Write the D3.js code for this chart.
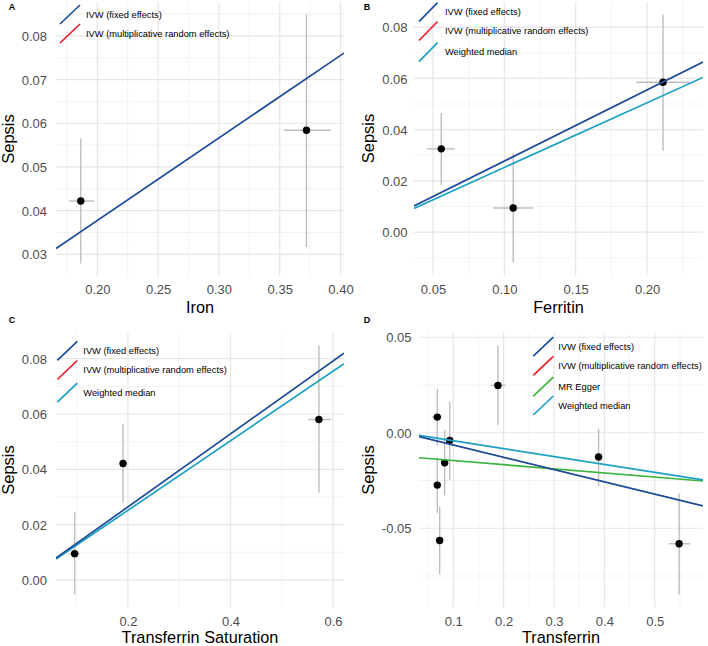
<!DOCTYPE html>
<html><head><meta charset="utf-8">
<script src="https://cdn.jsdelivr.net/npm/d3@7"></script>
<style>
body{margin:0;background:#fff}
svg{display:block;font-family:"Liberation Sans",Arial,Helvetica,sans-serif}
</style>
</head><body>
<svg id="chart" width="708" height="646"></svg>
<script>
// ---------- shared ----------
const methodNames = ["IVW (fixed effects)", "IVW (multiplicative random effects)", "MR Egger", "Weighted median"];
const methodColors = ["#1b4f9c", "#f01c24", "#3cb43c", "#1ba0c4"];

// ---------- Panel A: Iron ----------
const ironPoints = [
  {x:0.1864, xlo:0.1768, xhi:0.1973, y:0.0422, ylo:0.0279, yhi:0.0565},
  {x:0.3720, xlo:0.3534, xhi:0.3921, y:0.0584, ylo:0.0317, yhi:0.0849}
];
const ironMethods = ["IVW (fixed effects)", "IVW (multiplicative random effects)"];
const ironSlopes = [0.1888, 0.1888];
const ironIntercepts = [0, 0];
const ironXTicks = [0.20, 0.25, 0.30, 0.35, 0.40];
const ironXLabels = ["0.20", "0.25", "0.30", "0.35", "0.40"];
const ironYTicks = [0.03, 0.04, 0.05, 0.06, 0.07, 0.08];
const ironYLabels = ["0.03", "0.04", "0.05", "0.06", "0.07", "0.08"];

// ---------- Panel B: Ferritin ----------
const ferritinPoints = [
  {x:0.0558, xlo:0.0459, xhi:0.0652, y:0.0325, ylo:0.0183, yhi:0.0465},
  {x:0.1062, xlo:0.0922, xhi:0.1200, y:0.0094, ylo:-0.0119, yhi:0.0307},
  {x:0.2112, xlo:0.1925, xhi:0.2300, y:0.0585, ylo:0.0318, yhi:0.0850}
];
const ferritinMethods = ["IVW (fixed effects)", "IVW (multiplicative random effects)", "Weighted median"];
const ferritinSlopes = [0.2775, 0.2775, 0.2525];
const ferritinIntercepts = [0, 0, 0];
const ferritinXTicks = [0.05, 0.10, 0.15, 0.20];
const ferritinXLabels = ["0.05", "0.10", "0.15", "0.20"];
const ferritinYTicks = [0.00, 0.02, 0.04, 0.06, 0.08];
const ferritinYLabels = ["0.00", "0.02", "0.04", "0.06", "0.08"];

// ---------- Panel C: Transferrin Saturation ----------
const tsatPoints = [
  {x:0.0961, xlo:0.0853, xhi:0.1060, y:0.0095, ylo:-0.0053, yhi:0.0245},
  {x:0.1905, xlo:0.1860, xhi:0.1950, y:0.0421, ylo:0.0279, yhi:0.0565},
  {x:0.5724, xlo:0.5518, xhi:0.5958, y:0.0580, ylo:0.0315, yhi:0.0848}
];
const tsatMethods = ["IVW (fixed effects)", "IVW (multiplicative random effects)", "Weighted median"];
const tsatSlopes = [0.1320, 0.1320, 0.1258];
const tsatIntercepts = [0, 0, 0];
const tsatXTicks = [0.2, 0.4, 0.6];
const tsatXLabels = ["0.2", "0.4", "0.6"];
const tsatYTicks = [0.00, 0.02, 0.04, 0.06, 0.08];
const tsatYLabels = ["0.00", "0.02", "0.04", "0.06", "0.08"];

// ---------- Panel D: Transferrin ----------
const transferrinPoints = [
  {x:0.0683, xlo:0.0576, xhi:0.0770, y:0.0082,  ylo:-0.0066, yhi:0.0230},
  {x:0.0929, xlo:0.0890, xhi:0.0970, y:-0.0040, ylo:-0.0248, yhi:0.0162},
  {x:0.0829, xlo:0.0780, xhi:0.0880, y:-0.0157, ylo:-0.0328, yhi:0.0014},
  {x:0.0683, xlo:0.0650, xhi:0.0720, y:-0.0274, ylo:-0.0419, yhi:-0.0131},
  {x:0.0730, xlo:0.0680, xhi:0.0780, y:-0.0564, ylo:-0.0742, yhi:-0.0387},
  {x:0.1887, xlo:0.1754, xhi:0.2040, y:0.0248,  ylo:0.0040,  yhi:0.0457},
  {x:0.3885, xlo:0.3810, xhi:0.3960, y:-0.0127, ylo:-0.0279, yhi:0.0021},
  {x:0.5484, xlo:0.5280, xhi:0.5702, y:-0.0581, ylo:-0.0847, yhi:-0.0318}
];
const transferrinMethods = ["IVW (fixed effects)", "IVW (multiplicative random effects)", "MR Egger", "Weighted median"];
const transferrinSlopes = [-0.0642, -0.0642, -0.0216, -0.0415];
const transferrinIntercepts = [0, 0, -0.0124, 0];
const transferrinXTicks = [0.1, 0.2, 0.3, 0.4, 0.5];
const transferrinXLabels = ["0.1", "0.2", "0.3", "0.4", "0.5"];
const transferrinYTicks = [-0.05, 0.00, 0.05];
const transferrinYLabels = ["-0.05", "0.00", "0.05"];

// ---------- panel assembly ----------
const panels = [
  {tag:"A", xTitle:"Iron", points:ironPoints, methods:ironMethods, slopes:ironSlopes, intercepts:ironIntercepts,
   xTicks:ironXTicks, xLabels:ironXLabels, yTicks:ironYTicks, yLabels:ironYLabels},
  {tag:"B", xTitle:"Ferritin", points:ferritinPoints, methods:ferritinMethods, slopes:ferritinSlopes, intercepts:ferritinIntercepts,
   xTicks:ferritinXTicks, xLabels:ferritinXLabels, yTicks:ferritinYTicks, yLabels:ferritinYLabels},
  {tag:"C", xTitle:"Transferrin Saturation", points:tsatPoints, methods:tsatMethods, slopes:tsatSlopes, intercepts:tsatIntercepts,
   xTicks:tsatXTicks, xLabels:tsatXLabels, yTicks:tsatYTicks, yLabels:tsatYLabels},
  {tag:"D", xTitle:"Transferrin", points:transferrinPoints, methods:transferrinMethods, slopes:transferrinSlopes, intercepts:transferrinIntercepts,
   xTicks:transferrinXTicks, xLabels:transferrinXLabels, yTicks:transferrinYTicks, yLabels:transferrinYLabels}
];

// layout (positions only)
const layouts = [
  {box:{l:56,r:344,t:2,b:276}, tag:[12,7], yLabR:47, yTitleX:8.5, xLabY:289.5, xTitleY:307,
   legend:{kx:60, kw:20, kh:19, tx:86, rows:[14.5,33.5]}},
  {box:{l:414,r:703,t:2,b:275}, tag:[367,7], yLabR:407.5, yTitleX:368, xLabY:289.5, xTitleY:307,
   legend:{kx:419, kw:18.5, kh:19, tx:445, rows:[12.2,31,52.2]}},
  {box:{l:56,r:344,t:333,b:607}, tag:[12,320], yLabR:47, yTitleX:8.5, xLabY:621, xTitleY:636.8,
   legend:{kx:57.3, kw:20, kh:19, tx:83.3, rows:[350.8,370,392.7]}},
  {box:{l:419,r:703,t:333,b:607}, tag:[367,320], yLabR:411.5, yTitleX:368, xLabY:621, xTitleY:636.8,
   legend:{kx:533.3, kw:20, kh:19, tx:558.3, rows:[346.7,365.8,386.7,405.5]}}
];

const svg = d3.select("#chart");
svg.append("rect").attr("width",708).attr("height",646).attr("fill","#fff");
const defs = svg.append("defs");

function expand(lo, hi){ const r = hi - lo; return [lo - 0.05*r, hi + 0.05*r]; }
function minorBreaks(major, dom){
  const step = major[1] - major[0];
  const out = [];
  const all = [major[0]-step].concat(major).concat([major[major.length-1]+step]);
  for (let i=0;i<all.length-1;i++){
    const m = (all[i]+all[i+1])/2;
    if (m >= dom[0] && m <= dom[1]) out.push(m);
  }
  return out;
}

panels.forEach((p, i) => {
  const L = layouts[i], b = L.box;
  const xDom = expand(d3.min(p.points, d=>d.xlo), d3.max(p.points, d=>d.xhi));
  const yDom = expand(d3.min(p.points, d=>d.ylo), d3.max(p.points, d=>d.yhi));
  const x = d3.scaleLinear().domain(xDom).range([b.l, b.r]);
  const y = d3.scaleLinear().domain(yDom).range([b.b, b.t]);
  const g = svg.append("g");

  // grid
  const grid = g.append("g");
  minorBreaks(p.xTicks, xDom).forEach(v => grid.append("line")
    .attr("x1",x(v)).attr("x2",x(v)).attr("y1",b.t).attr("y2",b.b)
    .attr("stroke","#ebebeb").attr("stroke-width",0.6));
  minorBreaks(p.yTicks, yDom).forEach(v => grid.append("line")
    .attr("y1",y(v)).attr("y2",y(v)).attr("x1",b.l).attr("x2",b.r)
    .attr("stroke","#ebebeb").attr("stroke-width",0.6));
  p.xTicks.forEach(v => grid.append("line")
    .attr("x1",x(v)).attr("x2",x(v)).attr("y1",b.t).attr("y2",b.b)
    .attr("stroke","#e6e6e6").attr("stroke-width",1.2));
  p.yTicks.forEach(v => grid.append("line")
    .attr("y1",y(v)).attr("y2",y(v)).attr("x1",b.l).attr("x2",b.r)
    .attr("stroke","#e6e6e6").attr("stroke-width",1.2));

  // axes (d3 axes, styled ggplot-minimal: no domain, no ticks)
  const xAxis = d3.axisBottom(x).tickValues(p.xTicks).tickFormat((d,k)=>p.xLabels[k]).tickSize(0).tickPadding(0);
  const xa = g.append("g").attr("transform",`translate(0,${L.xLabY})`).call(xAxis);
  xa.select(".domain").remove();
  xa.selectAll("text").attr("dy","0.35em").attr("y",0)
    .attr("font-size",13).attr("fill","#4d4d4d").attr("font-family","Liberation Sans, Arial, sans-serif");
  const yAxis = d3.axisLeft(y).tickValues(p.yTicks).tickFormat((d,k)=>p.yLabels[k]).tickSize(0).tickPadding(0);
  const ya = g.append("g").attr("transform",`translate(${L.yLabR},0)`).call(yAxis);
  ya.select(".domain").remove();
  ya.selectAll("text").attr("x",0).attr("dy","0.35em")
    .attr("font-size",13).attr("fill","#4d4d4d").attr("font-family","Liberation Sans, Arial, sans-serif");

  // titles
  g.append("text").attr("x",(b.l+b.r)/2).attr("y",L.xTitleY).attr("dy","0.35em")
    .attr("text-anchor","middle").attr("font-size",16.3).attr("fill","#000").text(p.xTitle);
  g.append("text").attr("transform",`translate(${L.yTitleX},${(b.t+b.b)/2}) rotate(-90)`)
    .attr("dy","0.35em").attr("text-anchor","middle").attr("font-size",16.5).attr("fill","#000").text("Sepsis");
  g.append("text").attr("x",L.tag[0]).attr("y",L.tag[1]).attr("dy","0.35em")
    .attr("text-anchor","middle").attr("font-size",9).attr("font-weight","bold").attr("fill","#000").text(p.tag);

  // clip
  const cid = "clip"+i;
  defs.append("clipPath").attr("id",cid).append("rect")
    .attr("x",b.l).attr("y",b.t).attr("width",b.r-b.l).attr("height",b.b-b.t);
  const pg = g.append("g").attr("clip-path",`url(#${cid})`);

  // error bars
  pg.selectAll(".ev").data(p.points).join("line")
    .attr("x1",d=>x(d.x)).attr("x2",d=>x(d.x)).attr("y1",d=>y(d.ylo)).attr("y2",d=>y(d.yhi))
    .attr("stroke","#bebebe").attr("stroke-width",1.4);
  pg.selectAll(".eh").data(p.points).join("line")
    .attr("y1",d=>y(d.y)).attr("y2",d=>y(d.y)).attr("x1",d=>x(d.xlo)).attr("x2",d=>x(d.xhi))
    .attr("stroke","#bebebe").attr("stroke-width",1.4);
  // points
  pg.selectAll("circle").data(p.points).join("circle")
    .attr("cx",d=>x(d.x)).attr("cy",d=>y(d.y)).attr("r",3.7).attr("fill","#000");

  // regression lines (abline); random-effects IVW is hidden under the fixed-effects IVW line
  const lineData = p.methods.map((m,k)=>({m, slope:p.slopes[k], icpt:p.intercepts[k], color:methodColors[methodNames.indexOf(m)]}));
  const order = ["IVW (multiplicative random effects)", "MR Egger", "Weighted median", "IVW (fixed effects)"];
  lineData.slice().sort((a,c)=>order.indexOf(a.m)-order.indexOf(c.m)).forEach(d => {
    const hidden = d.m === "IVW (multiplicative random effects)";
    pg.append("line")
      .attr("x1",x(xDom[0])).attr("x2",x(xDom[1]))
      .attr("y1",y(d.icpt + d.slope*xDom[0])).attr("y2",y(d.icpt + d.slope*xDom[1]))
      .attr("stroke",d.color).attr("stroke-width",hidden ? 0.8 : 1.7);
  });

  // legend
  const lg = g.append("g");
  lineData.forEach((d,k) => {
    const cy = L.legend.rows[k];
    lg.append("line")
      .attr("x1",L.legend.kx).attr("y1",cy + L.legend.kh/2)
      .attr("x2",L.legend.kx + L.legend.kw).attr("y2",cy - L.legend.kh/2)
      .attr("stroke",d.color).attr("stroke-width",1.7);
    lg.append("text").attr("x",L.legend.tx).attr("y",cy).attr("dy","0.35em")
      .attr("font-size",9.3).attr("fill","#000").text(d.m);
  });
});
</script>
</body></html>
